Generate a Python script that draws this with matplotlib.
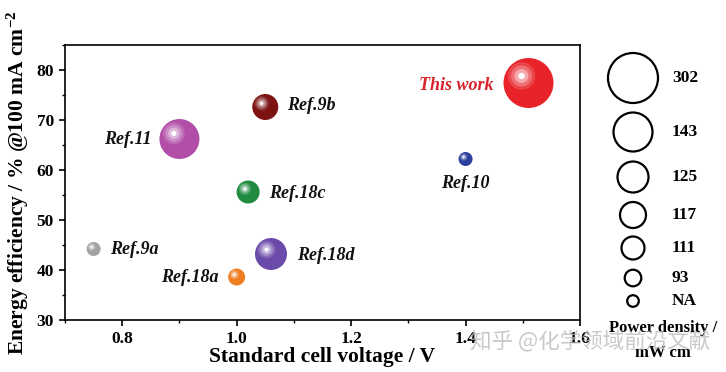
import matplotlib
matplotlib.use("Agg")
import matplotlib.pyplot as plt
from matplotlib.transforms import offset_copy
from matplotlib.patches import Ellipse
from matplotlib.ticker import MultipleLocator
import matplotlib.colors as mcolors

# ---------------- data ----------------
labels = ["This work", "Ref.10", "Ref.9b", "Ref.11", "Ref.18c", "Ref.9a", "Ref.18d", "Ref.18a"]
voltage = [1.51, 1.40, 1.05, 0.90, 1.02, 0.75, 1.06, 1.00]
efficiency = [77.4, 62.2, 72.6, 66.2, 55.6, 44.2, 43.2, 38.6]
power_density = ["302", "NA", "117", "143", "111", "NA", "125", "93"]

legend_labels = ["302", "143", "125", "117", "111", "93", "NA"]

# ---------------- styles ----------------
radius_px = {"302": 25, "143": 20, "125": 16, "117": 13, "111": 11.5, "93": 8.5, "NA": 7}
legend_radius_px = {"302": 25, "143": 19.5, "125": 15.5, "117": 13, "111": 11.5, "93": 8.3, "NA": 5.8}
colors = {
    "This work": "#e8232a", "Ref.10": "#2b3f9c", "Ref.9b": "#7c1212", "Ref.11": "#b24ea8",
    "Ref.18c": "#1f8a40", "Ref.9a": "#a3a3a3", "Ref.18d": "#6b4ba9", "Ref.18a": "#ef7e22",
}
# label offsets in pixels (dx, dy) and alignment
label_pos = {
    "This work": (-35, -3, "right", "center"),
    "Ref.10": (0, -24, "center", "center"),
    "Ref.9b": (22, 1, "left", "center"),
    "Ref.11": (-28, -1, "right", "center"),
    "Ref.18c": (21, -1, "left", "center"),
    "Ref.9a": (16, 0, "left", "center"),
    "Ref.18d": (26, -2, "left", "center"),
    "Ref.18a": (-18, 0, "right", "center"),
}

DPI = 100
PX2PT = 72.0 / DPI
serif = ["Liberation Serif", "DejaVu Serif"]
plt.rcParams["mathtext.fontset"] = "custom"
plt.rcParams["mathtext.rm"] = "Liberation Serif:bold"
plt.rcParams["mathtext.it"] = "Liberation Serif:bold"
plt.rcParams["mathtext.bf"] = "Liberation Serif:bold"

fig = plt.figure(figsize=(7.26, 3.72), dpi=DPI)
ax = fig.add_axes([65 / 726, 1 - 320 / 372, (580 - 65) / 726, (320 - 45) / 372])
ax.set_xlim(0.7, 1.6)
ax.set_ylim(30, 85)


def mix(c, w):
    r, g, b = mcolors.to_rgb(c)
    return (r + (1 - r) * w, g + (1 - g) * w, b + (1 - b) * w)


for lab, x, y, pd in zip(labels, voltage, efficiency, power_density):
    r = radius_px[pd]
    c = colors[lab]
    ax.scatter([x], [y], s=(2 * r * PX2PT) ** 2, color=c, edgecolors="none", zorder=3)
    hx, hy = -0.28 * r, 0.28 * r
    layers = [(0.55, 0.15), (0.42, 0.35), (0.28, 0.6), (0.13, 1.0)]
    for frac, w in layers:
        tr = offset_copy(ax.transData, fig=fig, x=hx * PX2PT, y=hy * PX2PT, units="points")
        ax.scatter([x], [y], s=(2 * r * frac * PX2PT) ** 2, color=mix(c, w), edgecolors="none",
                   transform=tr, zorder=4)
    dx, dy, ha, va = label_pos[lab]
    tcolor = "#d8232a" if lab == "This work" else "#111111"
    ax.annotate(lab, (x, y), xytext=(dx * PX2PT, dy * PX2PT), textcoords="offset points",
                ha=ha, va=va, fontsize=13, fontweight="bold", fontstyle="italic",
                family=serif, color=tcolor, zorder=5)

for s in ax.spines.values():
    s.set_linewidth(1.2)
ax.xaxis.set_major_locator(MultipleLocator(0.2))
ax.xaxis.set_minor_locator(MultipleLocator(0.1))
ax.yaxis.set_major_locator(MultipleLocator(10))
ax.yaxis.set_minor_locator(MultipleLocator(5))
ax.tick_params(which="major", direction="out", length=4, width=1.2, top=False, right=False, pad=4)
ax.tick_params(which="minor", direction="out", length=2.5, width=1.0, top=False, right=False)
ax.set_xticks([0.8, 1.0, 1.2, 1.4, 1.6])
ax.set_xticklabels(["0.8", "1.0", "1.2", "1.4", "1.6"])
for t in ax.get_xticklabels() + ax.get_yticklabels():
    t.set_family(serif)
    t.set_fontweight("bold")
    t.set_fontsize(12.5)
ax.set_xlabel("Standard cell voltage / V", family=serif, fontweight="bold", fontsize=15.5, labelpad=0)
ax.set_ylabel("Energy efficiency / % @100 mA cm$^{-2}$", family=serif, fontweight="bold",
              fontsize=15.5, labelpad=4)

# ---------------- size legend ----------------
W, H = 726, 372
legend_y_px = [78, 132, 177, 215, 248, 278, 301]
cx_px = 633
for lab, ypx in zip(legend_labels, legend_y_px):
    r = legend_radius_px[lab]
    e = Ellipse((cx_px / W, 1 - ypx / H), 2 * r / W, 2 * r / H, transform=fig.transFigure,
                fill=False, edgecolor="black", linewidth=1.6)
    fig.patches.append(e)
    fig.text(672 / W, 1 - ypx / H, lab, ha="left", va="center", family=serif,
             fontweight="bold", fontsize=12.5)
fig.text(663 / W, 1 - 328 / H, "Power density /", ha="center", va="center", family=serif,
         fontweight="bold", fontsize=12)
fig.text(663 / W, 1 - 353 / H, "mW cm", ha="center", va="center", family=serif,
         fontweight="bold", fontsize=12)

# watermark
fig.text(470 / W, 1 - 342 / H, "知乎 @化学领域前沿文献", ha="left", va="center",
         family=["Noto Sans CJK SC", "DejaVu Sans"], fontsize=15.5, color="#b8b8b8", alpha=0.75)

fig.savefig("out.png", dpi=DPI)
